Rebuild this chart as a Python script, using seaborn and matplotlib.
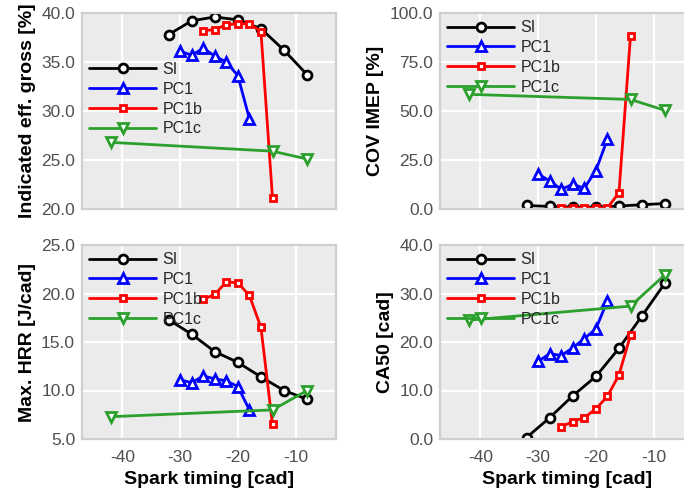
import matplotlib
matplotlib.use("Agg")
import matplotlib.pyplot as plt
import seaborn as sns
import numpy as np
import pandas as pd

# ---- data ----
x_si = [-32, -28, -24, -20, -16, -12, -8]
x_pc1 = [-30, -28, -26, -24, -22, -20, -18]
x_pc1b = [-26, -24, -22, -20, -18, -16, -14]
x_pc1c = [-42, -14, -8]

eff_si = [37.8, 39.2, 39.6, 39.3, 38.4, 36.2, 33.7]
eff_pc1 = [36.1, 35.7, 36.4, 35.6, 35.0, 33.6, 29.2]
eff_pc1b = [38.2, 38.3, 38.8, 38.9, 38.9, 38.1, 21.1]
eff_pc1c = [26.8, 25.9, 25.1]

cov_si = [1.8, 1.3, 1.0, 1.0, 1.5, 2.2, 2.8]
cov_pc1 = [17.8, 14.4, 10.0, 12.6, 10.6, 19.6, 35.6]
cov_pc1b = [0.6, 0.5, 0.5, 0.5, 0.6, 8.3, 88.4]
cov_pc1c = [58.5, 55.9, 50.3]

hrr_si = [17.3, 15.8, 14.0, 12.9, 11.4, 10.0, 9.1]
hrr_pc1 = [11.1, 10.8, 11.5, 11.2, 11.0, 10.4, 8.0]
hrr_pc1b = [19.4, 19.9, 21.2, 21.1, 19.8, 16.5, 6.5]
hrr_pc1c = [7.3, 8.0, 10.0]

ca50_si = [0.3, 4.4, 8.9, 12.9, 18.7, 25.4, 32.2]
ca50_pc1 = [16.0, 17.6, 17.2, 18.8, 20.7, 22.7, 28.5]
ca50_pc1b = [2.5, 3.6, 4.4, 6.2, 8.8, 13.2, 21.4]
ca50_pc1c = [24.5, 27.4, 33.9]

series_names = ["SI", "PC1", "PC1b", "PC1c"]
series_x = [x_si, x_pc1, x_pc1b, x_pc1c]

panels = [
    ("Indicated eff. gross [%]", [eff_si, eff_pc1, eff_pc1b, eff_pc1c], [20, 25, 30, 35, 40]),
    ("COV IMEP [%]", [cov_si, cov_pc1, cov_pc1b, cov_pc1c], [0, 25, 50, 75, 100]),
    ("Max. HRR [J/cad]", [hrr_si, hrr_pc1, hrr_pc1b, hrr_pc1c], [5, 10, 15, 20, 25]),
    ("CA50 [cad]", [ca50_si, ca50_pc1, ca50_pc1b, ca50_pc1c], [0, 10, 20, 30, 40]),
]
x_ticks = [-40, -30, -20, -10]

# ---- style ----
sns.set_style("darkgrid", {
    "axes.facecolor": "#EBEBEB",
    "grid.color": "white",
    "axes.edgecolor": "#CFCFCF",
})
plt.rcParams["font.family"] = ["Liberation Sans", "DejaVu Sans"]
plt.rcParams["axes.unicode_minus"] = False

colors = ["black", "#0000FF", "#FF0000", "#2CA02C"]
markers = ["o", "^", "s", "v"]
msizes = [6.4, 7.2, 5.0, 7.2]

fig = plt.figure(figsize=(6.84, 4.97), dpi=100)
W, H = 684, 497
axw = 254
pos = [
    (82, 13, 209),
    (440, 13, 209),
    (82, 245, 439),
    (440, 245, 439),
]
legend_anchor = [(0.0, 0.56, "center left"), (0.0, 1.0, "upper left"),
                 (0.0, 1.0, "upper left"), (0.0, 1.0, "upper left")]

for i, (ylabel, ys, yticks) in enumerate(panels):
    left, top, bottom = pos[i]
    ax = fig.add_axes([left / W, (H - bottom) / H, axw / W, (bottom - top) / H])
    for name, xs, yv, c, m, ms in zip(series_names, series_x, ys, colors, markers, msizes):
        df = pd.DataFrame({"x": xs, "y": yv})
        sns.lineplot(data=df, x="x", y="y", ax=ax, color=c, marker=m, markersize=ms,
                     markerfacecolor="white", markeredgecolor=c, markeredgewidth=2.0,
                     linewidth=2.0, label=name, sort=False)
    ax.set_xlim(-47, -3)
    ax.set_ylim(yticks[0], yticks[-1])
    ax.set_yticks(yticks)
    ax.set_yticklabels([f"{v:.1f}" for v in yticks])
    ax.set_xticks(x_ticks)
    ax.grid(True, color="white", linewidth=1.6)
    for s in ax.spines.values():
        s.set_visible(True)
        s.set_color("#CFCFCF")
        s.set_linewidth(1.6)
    ax.tick_params(axis="y", labelsize=12.5, labelcolor="#505050", length=0, pad=5)
    ax.tick_params(axis="x", labelsize=12.5, labelcolor="#505050", length=0, pad=8)
    ax.set_ylabel(ylabel, fontsize=14, fontweight="bold", color="black")
    if i < 2:
        ax.set_xticklabels([])
        ax.set_xlabel("")
    else:
        ax.set_xlabel("Spark timing [cad]", fontsize=14, fontweight="bold", color="black", labelpad=4)
    bx, by, loc = legend_anchor[i]
    ax.legend(loc=loc, bbox_to_anchor=(bx, by), frameon=False, fontsize=11.5,
              handlelength=4.2, labelspacing=0.3, handletextpad=0.4,
              borderaxespad=0.15, borderpad=0.3)

fig.savefig("out.png", dpi=100)
